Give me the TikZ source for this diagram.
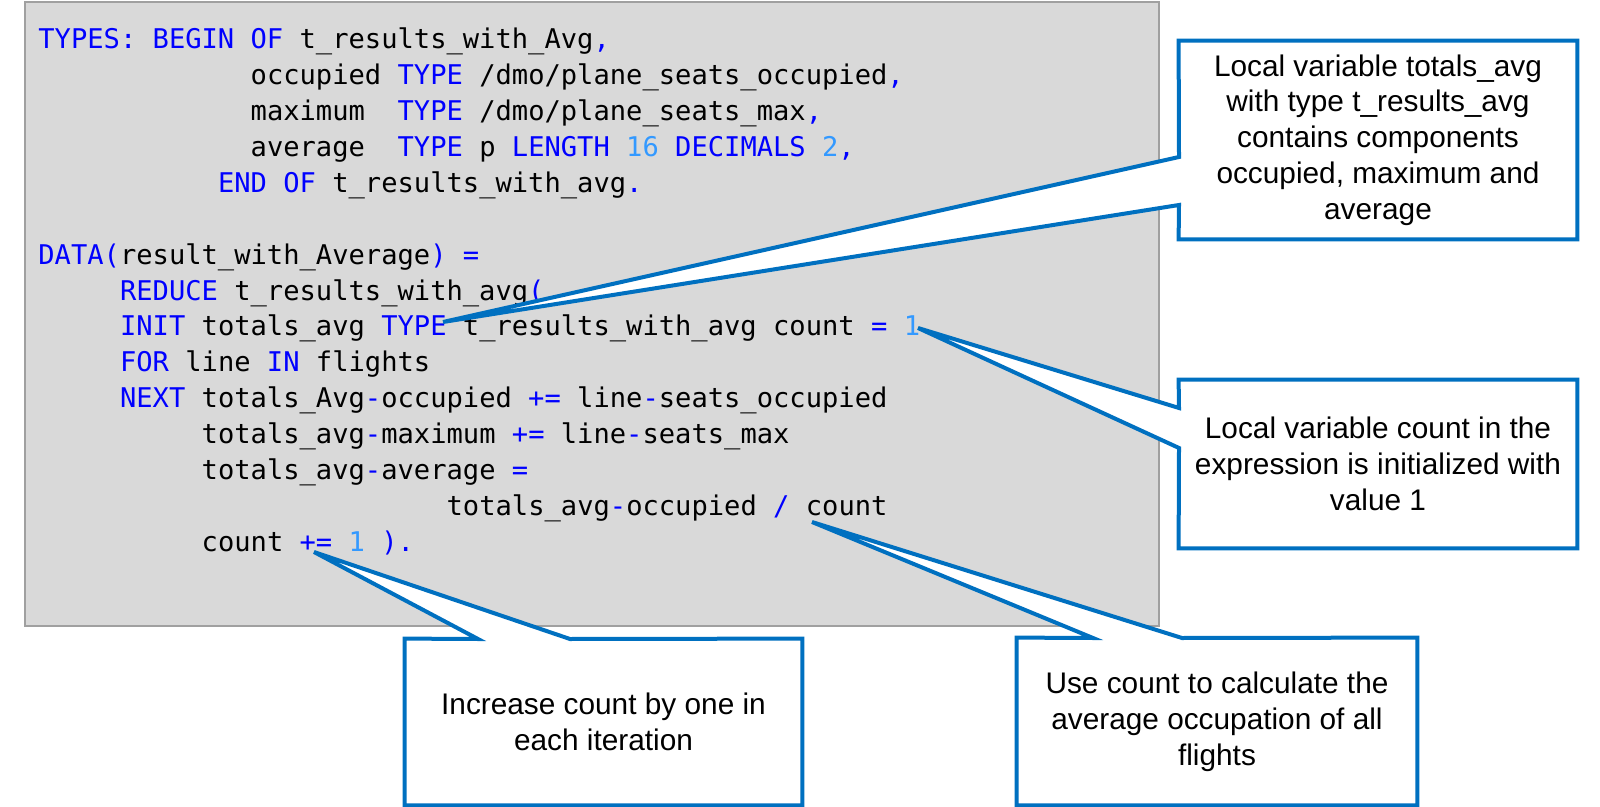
\documentclass[tikz,border=0pt]{standalone}
\usepackage{fontspec}
\newfontfamily\codefont{DejaVu Sans Mono}
\newfontfamily\callfont{Liberation Sans}
\definecolor{kwblue}{RGB}{0,0,255}
\definecolor{numblue}{RGB}{51,153,255}
\definecolor{codebg}{RGB}{217,217,217}
\definecolor{codeborder}{RGB}{160,160,160}
\definecolor{callblue}{RGB}{0,112,192}
\newcommand{\kw}[1]{\textcolor{kwblue}{#1}}
\newcommand{\cn}[1]{\textcolor{numblue}{#1}}
\pgfdeclarelayer{codelayer}
\pgfdeclarelayer{calloutlayer}
\pgfsetlayers{codelayer,calloutlayer,main}
\begin{document}
\begin{tikzpicture}[x=0.5pt,y=-0.5pt,
  codeline/.style={anchor=base west,inner sep=0pt,font=\codefont\fontsize{13.56}{16}\selectfont},
  boxtext/.style={inner sep=0pt,align=center,font=\callfont\fontsize{14.9}{17.9}\selectfont},
  calloutshape/.style={fill=white,draw=callblue,line width=2pt}]
\def\cw{16.33}
\def\lh{35.86}
\path[use as bounding box] (0,0) rectangle (1600,807);
\begin{pgfonlayer}{codelayer}
\draw[fill=codebg,draw=codeborder,line width=1pt] (25,2) rectangle (1159,626);
\node[codeline] (l1) at ({38+0*\cw},{49+0*\lh}) {\kw{TYPES: BEGIN OF} t\_results\_with\_Avg\kw{,}};
\node[codeline] (l2) at ({38+13*\cw},{49+1*\lh}) {occupied \kw{TYPE} /dmo/plane\_seats\_occupied\kw{,}};
\node[codeline] (l3) at ({38+13*\cw},{49+2*\lh}) {maximum~ \kw{TYPE} /dmo/plane\_seats\_max\kw{,}};
\node[codeline] (l4) at ({38+13*\cw},{49+3*\lh}) {average~ \kw{TYPE} p \kw{LENGTH} \cn{16} \kw{DECIMALS} \cn{2}\kw{,}};
\node[codeline] (l5) at ({38+11*\cw},{49+4*\lh}) {\kw{END OF} t\_results\_with\_avg\kw{.}};
\node[codeline] (l7) at ({38+0*\cw},{49+6*\lh}) {\kw{DATA(}result\_with\_Average\kw{) =}};
\node[codeline] (l8) at ({38+5*\cw},{49+7*\lh}) {\kw{REDUCE} t\_results\_with\_avg\kw{(}};
\node[codeline] (l9) at ({38+5*\cw},{49+8*\lh}) {\kw{INIT} totals\_avg \kw{TYPE} t\_results\_with\_avg count \kw{=} \cn{1}};
\node[codeline] (l10) at ({38+5*\cw},{49+9*\lh}) {\kw{FOR} line \kw{IN} flights};
\node[codeline] (l11) at ({38+5*\cw},{49+10*\lh}) {\kw{NEXT} totals\_Avg\kw{-}occupied \kw{+=} line\kw{-}seats\_occupied};
\node[codeline] (l12) at ({38+10*\cw},{49+11*\lh}) {totals\_avg\kw{-}maximum \kw{+=} line\kw{-}seats\_max};
\node[codeline] (l13) at ({38+10*\cw},{49+12*\lh}) {totals\_avg\kw{-}average \kw{=}};
\node[codeline] (l14) at ({38+25*\cw},{49+13*\lh}) {totals\_avg\kw{-}occupied \kw{/} count};
\node[codeline] (l15) at ({38+10*\cw},{49+14*\lh}) {count \kw{+=} \cn{1} \kw{).}};
\end{pgfonlayer}
% callout boxes (text)
\node[boxtext,minimum width=199pt,minimum height=99pt] (b1) at (1378,140)
  {Local variable totals\_avg\\with type t\_results\_avg\\contains components\\occupied, maximum and\\average};
\node[boxtext,minimum width=199pt,minimum height=84pt] (b2) at (1378,464)
  {Local variable count in the\\expression is initialized with\\value 1};
\node[boxtext,minimum width=198.5pt,minimum height=83pt] (b3) at (603.5,722)
  {Increase count by one in\\each iteration};
\node[boxtext,minimum width=200pt,minimum height=83.5pt] (b4) at (1217,721.5)
  {Use count to calculate the\\average occupation of all\\flights};
% pointer tips and notches
\coordinate (t1) at (443,322);
\coordinate (t2) at (918,328);
\coordinate (t3) at (314,552);
\coordinate (t4) at (812,522);
\coordinate (n1a) at (1179,157);
\coordinate (n1b) at (1179,205);
\coordinate (n2a) at (1179,408);
\coordinate (n2b) at (1179,448);
\coordinate (n3a) at (478,639);
\coordinate (n3b) at (570,639);
\coordinate (n4a) at (1093,638);
\coordinate (n4b) at (1182,638);
\begin{pgfonlayer}{calloutlayer}
\draw[calloutshape] (b1.north west) -- (b1.north east) -- (b1.south east) -- (b1.south west) -- (n1b) -- (t1) -- (n1a) -- cycle;
\draw[calloutshape] (b2.north west) -- (b2.north east) -- (b2.south east) -- (b2.south west) -- (n2b) -- (t2) -- (n2a) -- cycle;
\draw[calloutshape] (b3.north west) -- (n3a) -- (t3) -- (n3b) -- (b3.north east) -- (b3.south east) -- (b3.south west) -- cycle;
\draw[calloutshape] (b4.north west) -- (n4a) -- (t4) -- (n4b) -- (b4.north east) -- (b4.south east) -- (b4.south west) -- cycle;
\end{pgfonlayer}
\end{tikzpicture}
\end{document}
